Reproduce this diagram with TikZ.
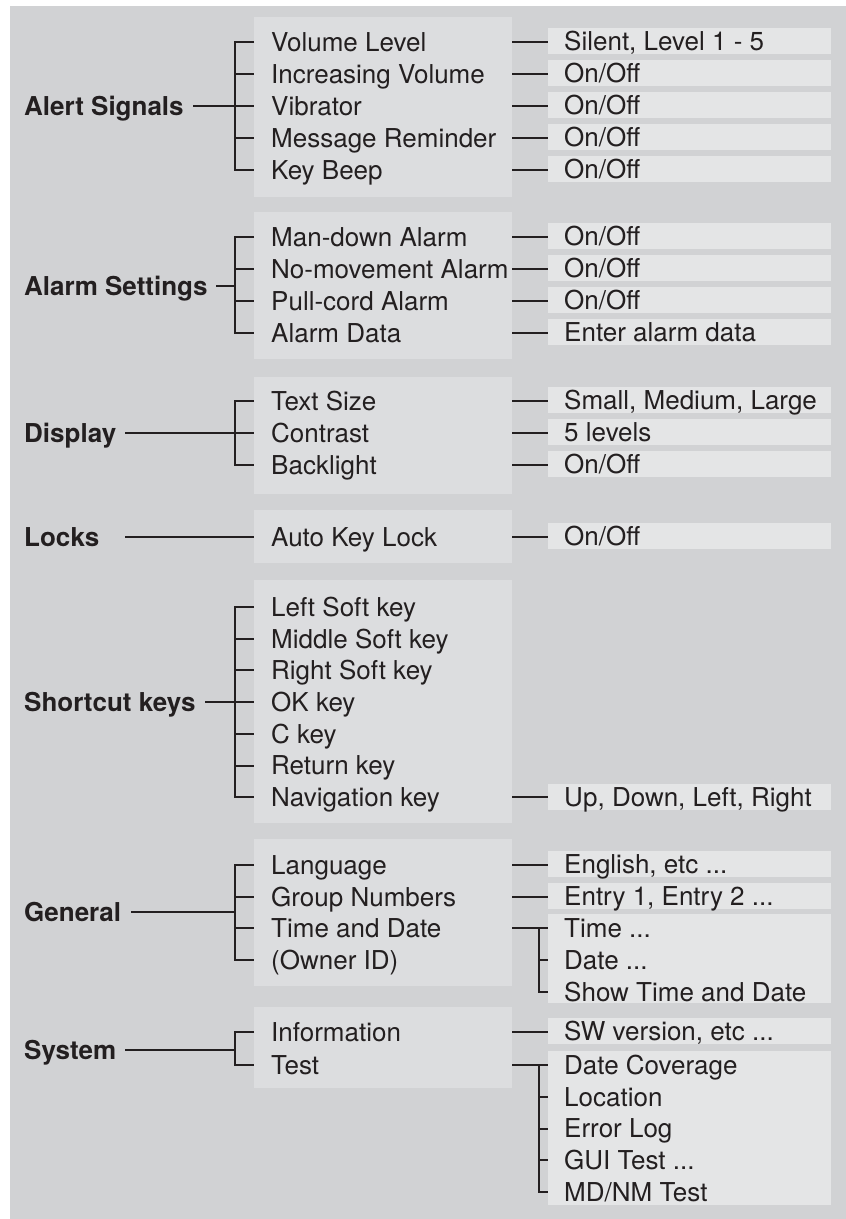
\documentclass[tikz,border=0pt]{standalone}
\usepackage{fontspec}
\setmainfont{TeX Gyre Heros}
\definecolor{bg}{HTML}{D1D2D4}
\definecolor{midgray}{HTML}{DCDDDF}
\definecolor{rgtgray}{HTML}{E4E5E6}
\definecolor{ink}{HTML}{231F20}
\newcommand\rtxt[1]{\makebox[251pt][l]{#1}}
\begin{document}
\begin{tikzpicture}[x=1pt,y=-1pt,
  txt/.style={inner sep=0pt, text height=18.7pt, text depth=0pt, font=\fontsize{26}{30}\selectfont, text=ink},
  lab/.style={txt, anchor=west, font=\fontsize{26}{30}\selectfont\bfseries},
  item/.style={txt, anchor=west},
  midbox/.style={fill=midgray, draw=none, inner sep=0pt, anchor=north west, minimum width=258pt},
  rbox/.style={fill=rgtgray, draw=none, anchor=west, inner xsep=16pt, inner ysep=0pt, minimum width=283pt, minimum height=26pt, text height=18.7pt, text depth=0pt, font=\fontsize{26}{30}\selectfont, text=ink},
  tallbox/.style={fill=rgtgray, draw=none, inner sep=0pt, anchor=north west, minimum width=283pt},
  conn/.style={draw=ink, line width=2pt}]
\useasboundingbox (0,0) rectangle (846,1219);
\fill[bg] (10,6) rectangle (846,1219);

% ---------------- Alert Signals ----------------
\node[midbox, minimum height=180pt] (mA) at (254,17) {};
\node[lab] (lA) at (24,106) {Alert Signals};
\node[item] (a1) at (271,42) {Volume Level};
\node[item] (a2) at (271,74) {Increasing Volume};
\node[item] (a3) at (271,106) {Vibrator};
\node[item] (a4) at (271,138) {Message Reminder};
\node[item] (a5) at (271,170) {Key Beep};
\node[rbox] (ra1) at (548,41) {\rtxt{Silent, Level 1 - 5}};
\node[rbox] (ra2) at (548,73) {\rtxt{On/Off}};
\node[rbox] (ra3) at (548,105) {\rtxt{On/Off}};
\node[rbox] (ra4) at (548,137) {\rtxt{On/Off}};
\node[rbox] (ra5) at (548,169) {\rtxt{On/Off}};
\coordinate (bA) at (234.5,106);
\coordinate (sA) at (193,106);
\draw[conn] (sA) -- (bA);
\draw[conn] (mA.west |- a1.west) -| (bA |- a5.west) -- (mA.west |- a5.west);
\foreach \i in {2,3,4} \draw[conn] (bA |- a\i.west) -- (mA.west |- a\i.west);
\foreach \i in {1,...,5} \draw[conn] (mA.east |- a\i.west) -- (ra\i.west |- a\i.west);

% ---------------- Alarm Settings ----------------
\node[midbox, minimum height=147pt] (mB) at (254,212) {};
\node[lab] (lB) at (24,286) {Alarm Settings};
\node[item] (b1) at (271,237) {Man-down Alarm};
\node[item] (b2) at (271,269) {No-movement Alarm};
\node[item] (b3) at (271,301) {Pull-cord Alarm};
\node[item] (b4) at (271,333) {Alarm Data};
\node[rbox] (rb1) at (548,236) {\rtxt{On/Off}};
\node[rbox] (rb2) at (548,268) {\rtxt{On/Off}};
\node[rbox] (rb3) at (548,300) {\rtxt{On/Off}};
\node[rbox] (rb4) at (548,332) {\rtxt{Enter alarm data}};
\coordinate (bB) at (234.5,286);
\coordinate (sB) at (216,286);
\draw[conn] (sB) -- (bB);
\draw[conn] (mB.west |- b1.west) -| (bB |- b4.west) -- (mB.west |- b4.west);
\foreach \i in {2,3} \draw[conn] (bB |- b\i.west) -- (mB.west |- b\i.west);
\foreach \i in {1,...,4} \draw[conn] (mB.east |- b\i.west) -- (rb\i.west |- b\i.west);

% ---------------- Display ----------------
\node[midbox, minimum height=117pt] (mC) at (254,377) {};
\node[lab] (lC) at (24,433) {Display};
\node[item] (c1) at (271,401) {Text Size};
\node[item] (c2) at (271,433) {Contrast};
\node[item] (c3) at (271,465) {Backlight};
\node[rbox] (rc1) at (548,400) {\rtxt{Small, Medium, Large}};
\node[rbox] (rc2) at (548,432) {\rtxt{5 levels}};
\node[rbox] (rc3) at (548,464) {\rtxt{On/Off}};
\coordinate (bC) at (234.5,433);
\coordinate (sC) at (125,433);
\draw[conn] (sC) -- (bC);
\draw[conn] (mC.west |- c1.west) -| (bC |- c3.west) -- (mC.west |- c3.west);
\draw[conn] (bC |- c2.west) -- (mC.west |- c2.west);
\foreach \i in {1,...,3} \draw[conn] (mC.east |- c\i.west) -- (rc\i.west |- c\i.west);

% ---------------- Locks ----------------
\node[midbox, minimum height=53pt] (mD) at (254,510) {};
\node[lab] (lD) at (24,537) {Locks};
\node[item] (d1) at (271,537) {Auto Key Lock};
\node[rbox] (rd1) at (548,536) {\rtxt{On/Off}};
\coordinate (sD) at (125,537);
\draw[conn] (sD) -- (mD.west |- d1.west);
\draw[conn] (mD.east |- d1.west) -- (rd1.west |- d1.west);

% ---------------- Shortcut keys ----------------
\node[midbox, minimum height=243pt] (mE) at (254,580) {};
\node[lab] (lE) at (24,702) {Shortcut keys};
\node[item] (e1) at (271,607) {Left Soft key};
\node[item] (e2) at (271,638.7) {Middle Soft key};
\node[item] (e3) at (271,670.4) {Right Soft key};
\node[item] (e4) at (271,702.1) {OK key};
\node[item] (e5) at (271,733.8) {C key};
\node[item] (e6) at (271,765.5) {Return key};
\node[item] (e7) at (271,797.2) {Navigation key};
\node[rbox] (re7) at (548,797.2) {\rtxt{Up, Down, Left, Right}};
\coordinate (bE) at (234.5,702.1);
\coordinate (sE) at (205,702.1);
\draw[conn] (sE) -- (bE);
\draw[conn] (mE.west |- e1.west) -| (bE |- e7.west) -- (mE.west |- e7.west);
\foreach \i in {2,...,6} \draw[conn] (bE |- e\i.west) -- (mE.west |- e\i.west);
\draw[conn] (mE.east |- e7.west) -- (re7.west |- e7.west);

% ---------------- General ----------------
\node[midbox, minimum height=147pt] (mF) at (254,839) {};
\node[lab] (lF) at (24,912) {General};
\node[item] (f1) at (271,865) {Language};
\node[item] (f2) at (271,897) {Group Numbers};
\node[item] (f3) at (271,928) {Time and Date};
\node[item] (f4) at (271,960) {(Owner ID)};
\node[rbox] (rf1) at (548,864) {\rtxt{English, etc ...}};
\node[rbox] (rf2) at (548,896) {\rtxt{Entry 1, Entry 2 ...}};
\node[tallbox, minimum height=89pt] (tF) at (548,914) {};
\node[item] (t1) at (564,928) {Time ...};
\node[item] (t2) at (564,960) {Date ...};
\node[item] (t3) at (564,992) {Show Time and Date};
\coordinate (bF) at (234.5,912);
\coordinate (sF) at (131,912);
\draw[conn] (sF) -- (bF);
\draw[conn] (mF.west |- f1.west) -| (bF |- f4.west) -- (mF.west |- f4.west);
\foreach \i in {2,3} \draw[conn] (bF |- f\i.west) -- (mF.west |- f\i.west);
\foreach \i in {1,2} \draw[conn] (mF.east |- f\i.west) -- (rf\i.west |- f\i.west);
\coordinate (bT) at (538.5,960);
\draw[conn] (mF.east |- f3.west) -- (tF.west |- t1.west);
\draw[conn] (bT |- t1.west) -- (bT |- t3.west) -- (tF.west |- t3.west);
\draw[conn] (bT |- t2.west) -- (tF.west |- t2.west);

% ---------------- System ----------------
\node[midbox, minimum height=81pt] (mG) at (254,1007) {};
\node[lab] (lG) at (24,1050) {System};
\node[item] (g1) at (271,1032) {Information};
\node[item] (g2) at (271,1065) {Test};
\node[rbox] (rg1) at (548,1031) {\rtxt{SW version, etc ...}};
\node[tallbox, minimum height=154pt] (tG) at (548,1051) {};
\node[item] (u1) at (564,1065) {Date Coverage};
\node[item] (u2) at (564,1096.75) {Location};
\node[item] (u3) at (564,1128.5) {Error Log};
\node[item] (u4) at (564,1160.25) {GUI Test ...};
\node[item] (u5) at (564,1192) {MD/NM Test};
\coordinate (bG) at (234.5,1050);
\coordinate (sG) at (125,1050);
\draw[conn] (sG) -- (bG);
\draw[conn] (mG.west |- g1.west) -| (bG |- g2.west) -- (mG.west |- g2.west);
\draw[conn] (mG.east |- g1.west) -- (rg1.west |- g1.west);
\coordinate (bU) at (538.5,1128.5);
\draw[conn] (mG.east |- g2.west) -- (tG.west |- u1.west);
\draw[conn] (bU |- u1.west) -- (bU |- u5.west) -- (tG.west |- u5.west);
\foreach \i in {2,3,4} \draw[conn] (bU |- u\i.west) -- (tG.west |- u\i.west);
\end{tikzpicture}
\end{document}
